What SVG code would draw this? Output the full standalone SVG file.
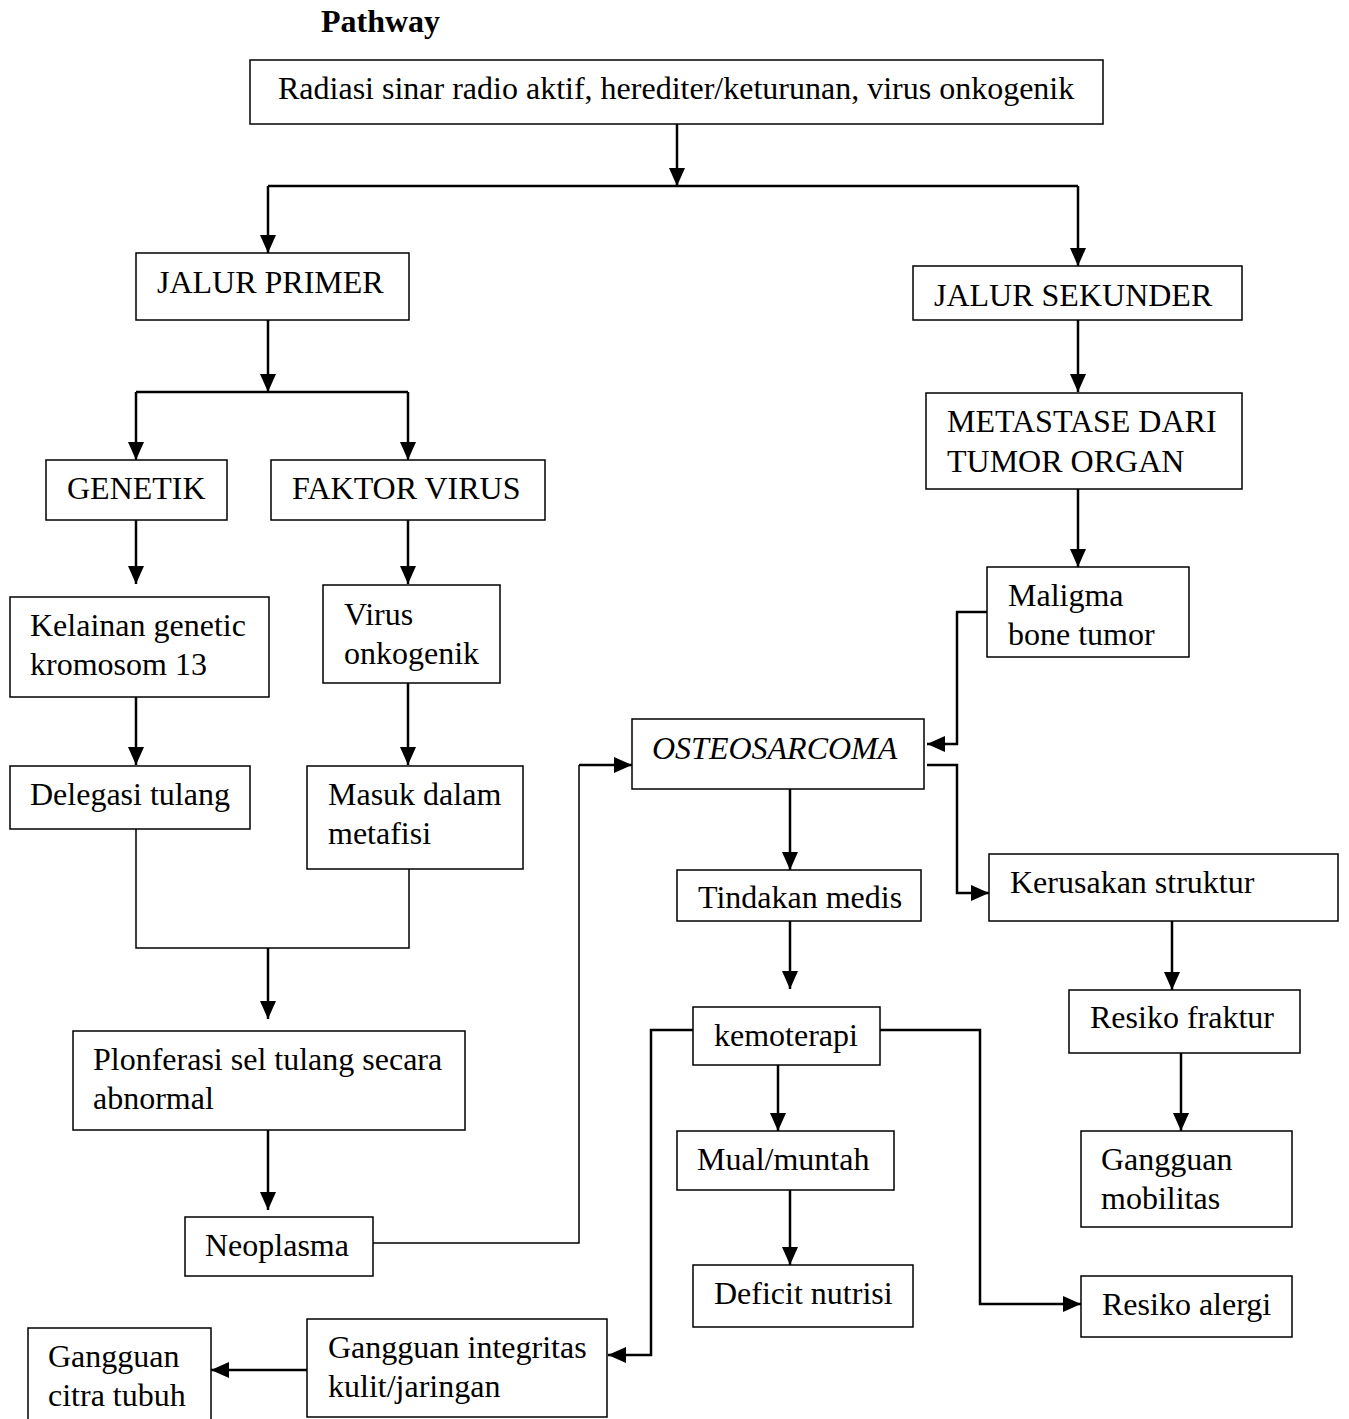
<svg xmlns="http://www.w3.org/2000/svg" width="1349" height="1419" viewBox="0 0 1349 1419">
<defs>
<style>
.b{fill:#fff;stroke:#000;stroke-width:1.5}
.t{font-family:"Liberation Serif","Times New Roman",serif;font-size:32px;fill:#000}
.c{fill:none;stroke:#000;stroke-width:2.5}
.thin{fill:none;stroke:#000;stroke-width:1.5}
</style>
<marker id="ah" markerUnits="userSpaceOnUse" markerWidth="20" markerHeight="16" refX="18" refY="8" orient="auto">
<path d="M0,0 L18,8 L0,16 Z" fill="#000"/>
</marker>
</defs>
<rect width="1349" height="1419" fill="#fff"/>
<text x="321" y="32" style="font-family:'Liberation Serif','Times New Roman',serif;font-size:32px;font-weight:bold">Pathway</text>

<g id="connectors">
<path class="c" d="M677,124 V186" marker-end="url(#ah)"/>
<path class="c" d="M268,186 H1078"/>
<path class="c" d="M268,186 V253" marker-end="url(#ah)"/>
<path class="c" d="M1078,186 V266" marker-end="url(#ah)"/>
<path class="c" d="M268,320 V392" marker-end="url(#ah)"/>
<path class="c" d="M136,392 H408"/>
<path class="c" d="M136,392 V460" marker-end="url(#ah)"/>
<path class="c" d="M408,392 V460" marker-end="url(#ah)"/>
<path class="c" d="M136,520 V584" marker-end="url(#ah)"/>
<path class="c" d="M408,520 V584" marker-end="url(#ah)"/>
<path class="c" d="M136,697 V765" marker-end="url(#ah)"/>
<path class="c" d="M408,683 V765" marker-end="url(#ah)"/>
<path class="thin" d="M136,829 V948 H409 V869"/>
<path class="c" d="M268,948 V1019" marker-end="url(#ah)"/>
<path class="c" d="M268,1130 V1210" marker-end="url(#ah)"/>
<path class="thin" d="M373,1243 H579 V765"/>
<path class="c" d="M579,765 H632" marker-end="url(#ah)"/>
<path class="c" d="M1078,320 V392" marker-end="url(#ah)"/>
<path class="c" d="M1078,489 V567" marker-end="url(#ah)"/>
<path class="c" d="M987,612 H957 V744 H927" marker-end="url(#ah)"/>
<path class="c" d="M927,765 H957 V893 H989" marker-end="url(#ah)"/>
<path class="c" d="M790,789 V870" marker-end="url(#ah)"/>
<path class="c" d="M790,921 V989" marker-end="url(#ah)"/>
<path class="c" d="M778,1065 V1131" marker-end="url(#ah)"/>
<path class="c" d="M693,1030 H651 V1355 H608" marker-end="url(#ah)"/>
<path class="c" d="M880,1030 H980 V1304 H1081" marker-end="url(#ah)"/>
<path class="c" d="M790,1190 V1265" marker-end="url(#ah)"/>
<path class="c" d="M1172,921 V990" marker-end="url(#ah)"/>
<path class="c" d="M1181,1053 V1131" marker-end="url(#ah)"/>
<path class="c" d="M307,1370 H211" marker-end="url(#ah)"/>
</g>

<g id="n-top"><rect class="b" x="250" y="60" width="853" height="64"/><text class="t" x="278" y="99">Radiasi sinar radio aktif, herediter/keturunan, virus onkogenik</text></g>
<g id="n-primer"><rect class="b" x="136" y="253" width="273" height="67"/><text class="t" x="157" y="293">JALUR PRIMER</text></g>
<g id="n-sekunder"><rect class="b" x="913" y="266" width="329" height="54"/><text class="t" x="934" y="306">JALUR SEKUNDER</text></g>
<g id="n-genetik"><rect class="b" x="46" y="460" width="181" height="60"/><text class="t" x="67" y="499">GENETIK</text></g>
<g id="n-faktor"><rect class="b" x="271" y="460" width="274" height="60"/><text class="t" x="292" y="499">FAKTOR VIRUS</text></g>
<g id="n-metastase"><rect class="b" x="926" y="393" width="316" height="96"/><text class="t" x="947" y="432">METASTASE DARI<tspan x="947" y="472">TUMOR ORGAN</tspan></text></g>
<g id="n-kelainan"><rect class="b" x="10" y="597" width="259" height="100"/><text class="t" x="30" y="636">Kelainan genetic<tspan x="30" y="675">kromosom 13</tspan></text></g>
<g id="n-virus"><rect class="b" x="323" y="585" width="177" height="98"/><text class="t" x="344" y="625">Virus<tspan x="344" y="664">onkogenik</tspan></text></g>
<g id="n-maligma"><rect class="b" x="987" y="567" width="202" height="90"/><text class="t" x="1008" y="606">Maligma<tspan x="1008" y="645">bone tumor</tspan></text></g>
<g id="n-osteo"><rect class="b" x="632" y="719" width="292" height="70"/><text class="t" x="652" y="759" font-style="italic">OSTEOSARCOMA</text></g>
<g id="n-delegasi"><rect class="b" x="10" y="766" width="240" height="63"/><text class="t" x="30" y="805">Delegasi tulang</text></g>
<g id="n-masuk"><rect class="b" x="307" y="766" width="216" height="103"/><text class="t" x="328" y="805">Masuk dalam<tspan x="328" y="844">metafisi</tspan></text></g>
<g id="n-tindakan"><rect class="b" x="677" y="870" width="244" height="51"/><text class="t" x="698" y="908">Tindakan medis</text></g>
<g id="n-kerusakan"><rect class="b" x="989" y="854" width="349" height="67"/><text class="t" x="1010" y="893">Kerusakan struktur</text></g>
<g id="n-kemoterapi"><rect class="b" x="693" y="1007" width="187" height="58"/><text class="t" x="714" y="1046">kemoterapi</text></g>
<g id="n-fraktur"><rect class="b" x="1069" y="990" width="231" height="63"/><text class="t" x="1090" y="1028">Resiko fraktur</text></g>
<g id="n-plonferasi"><rect class="b" x="73" y="1031" width="392" height="99"/><text class="t" x="93" y="1070">Plonferasi sel tulang secara<tspan x="93" y="1109">abnormal</tspan></text></g>
<g id="n-mual"><rect class="b" x="677" y="1131" width="217" height="59"/><text class="t" x="697" y="1170">Mual/muntah</text></g>
<g id="n-mobilitas"><rect class="b" x="1081" y="1131" width="211" height="96"/><text class="t" x="1101" y="1170">Gangguan<tspan x="1101" y="1209">mobilitas</tspan></text></g>
<g id="n-neoplasma"><rect class="b" x="185" y="1217" width="188" height="59"/><text class="t" x="205" y="1256">Neoplasma</text></g>
<g id="n-deficit"><rect class="b" x="693" y="1265" width="220" height="62"/><text class="t" x="714" y="1304">Deficit nutrisi</text></g>
<g id="n-alergi"><rect class="b" x="1081" y="1276" width="211" height="61"/><text class="t" x="1102" y="1315">Resiko alergi</text></g>
<g id="n-integritas"><rect class="b" x="307" y="1319" width="300" height="98"/><text class="t" x="328" y="1358">Gangguan integritas<tspan x="328" y="1397">kulit/jaringan</tspan></text></g>
<g id="n-citra"><rect class="b" x="28" y="1328" width="183" height="100"/><text class="t" x="48" y="1367">Gangguan<tspan x="48" y="1406">citra tubuh</tspan></text></g>
</svg>
